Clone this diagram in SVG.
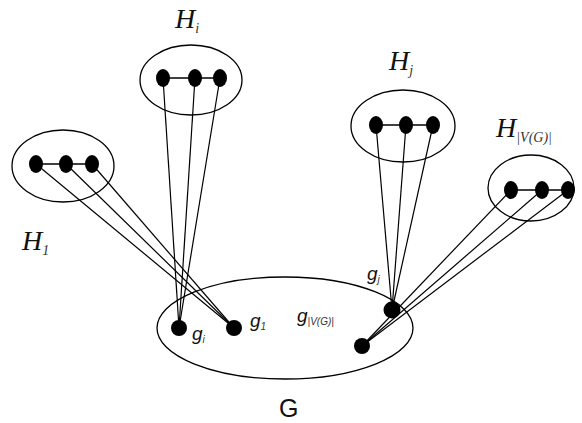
<svg xmlns="http://www.w3.org/2000/svg" width="582" height="423" viewBox="0 0 582 423">
<style>
.grp{fill:none;stroke:#000;stroke-width:1.3}
.v{fill:#000}
.e{stroke:#000;stroke-width:1.5}
.c{stroke:#000;stroke-width:1.2;fill:none}
.H{font-family:"Liberation Serif",serif;font-style:italic;font-size:28px;fill:#111}
.Hs{font-family:"Liberation Serif",serif;font-style:italic;font-size:14px;fill:#333}
.g{font-family:"Liberation Sans",sans-serif;font-style:italic;font-size:19px;fill:#111}
.gs{font-family:"Liberation Sans",sans-serif;font-style:italic;font-size:10px;fill:#333}
.G{font-family:"Liberation Sans",sans-serif;font-size:25px;fill:#111}
</style>
<rect width="582" height="423" fill="#fff"/>
<g id="connectors">
<line class="c" x1="36" y1="164" x2="234" y2="328"/>
<line class="c" x1="66" y1="164" x2="234" y2="328"/>
<line class="c" x1="92" y1="164" x2="234" y2="328"/>
<line class="c" x1="163" y1="78" x2="179" y2="328"/>
<line class="c" x1="195" y1="78" x2="179" y2="328"/>
<line class="c" x1="220" y1="78" x2="179" y2="328"/>
<line class="c" x1="376" y1="125" x2="392" y2="310"/>
<line class="c" x1="406" y1="125" x2="392" y2="310"/>
<line class="c" x1="433" y1="125" x2="392" y2="310"/>
<line class="c" x1="511" y1="190" x2="362" y2="346"/>
<line class="c" x1="542" y1="190" x2="362" y2="346"/>
<line class="c" x1="568" y1="190" x2="362" y2="346"/>
</g>
<g id="H1">
<ellipse class="grp" cx="63" cy="166" rx="51" ry="36"/>
<line class="e" x1="36" y1="164" x2="92" y2="164"/>
<ellipse class="v" cx="36" cy="164" rx="7" ry="9"/>
<ellipse class="v" cx="66" cy="164" rx="7" ry="9"/>
<ellipse class="v" cx="92" cy="164" rx="7" ry="9"/>
<text class="H" x="22" y="250">H<tspan class="Hs" dy="5">1</tspan></text>
</g>
<g id="Hi">
<ellipse class="grp" cx="191" cy="80" rx="51" ry="35"/>
<line class="e" x1="163" y1="78" x2="220" y2="78"/>
<ellipse class="v" cx="163" cy="78" rx="7" ry="9"/>
<ellipse class="v" cx="195" cy="78" rx="7" ry="9"/>
<ellipse class="v" cx="220" cy="78" rx="7" ry="9"/>
<text class="H" x="175" y="28">H<tspan class="Hs" dy="5">i</tspan></text>
</g>
<g id="Hj">
<ellipse class="grp" cx="403" cy="126" rx="52" ry="36"/>
<line class="e" x1="376" y1="125" x2="433" y2="125"/>
<ellipse class="v" cx="376" cy="125" rx="7" ry="9"/>
<ellipse class="v" cx="406" cy="125" rx="7" ry="9"/>
<ellipse class="v" cx="433" cy="125" rx="7" ry="9"/>
<text class="H" x="389" y="70">H<tspan class="Hs" dy="5">j</tspan></text>
</g>
<g id="HVG">
<ellipse class="grp" cx="531" cy="188" rx="43" ry="33"/>
<line class="e" x1="511" y1="190" x2="568" y2="190"/>
<ellipse class="v" cx="511" cy="190" rx="7" ry="9"/>
<ellipse class="v" cx="542" cy="190" rx="7" ry="9"/>
<ellipse class="v" cx="568" cy="190" rx="7" ry="9"/>
<text class="H" x="496" y="137">H<tspan class="Hs" dy="5">|V(G)|</tspan></text>
</g>
<g id="G">
<ellipse class="grp" cx="285" cy="328" rx="128" ry="51"/>
<circle class="v" cx="179" cy="328" r="8"/>
<circle class="v" cx="234" cy="328" r="8"/>
<circle class="v" cx="392" cy="310" r="8.5"/>
<circle class="v" cx="362" cy="346" r="8"/>
<text class="g" x="192" y="340">g<tspan class="gs" dy="3">i</tspan></text>
<text class="g" x="250" y="327">g<tspan class="gs" dy="3">1</tspan></text>
<text class="g" x="297" y="322">g<tspan class="gs" dy="3">|V(G)|</tspan></text>
<text class="g" x="367" y="280">g<tspan class="gs" dy="3">j</tspan></text>
<text class="G" x="279" y="417">G</text>
</g>
</svg>
